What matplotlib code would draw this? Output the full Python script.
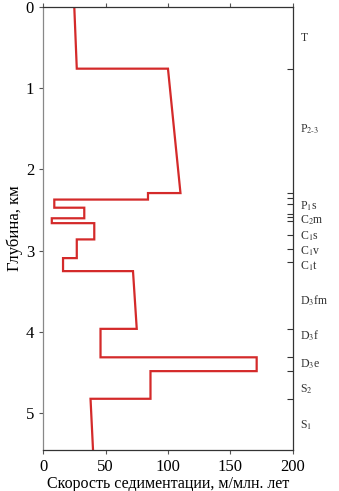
import matplotlib
matplotlib.use("Agg")
import matplotlib.pyplot as plt

plt.rcParams['font.family'] = ['Liberation Serif', 'DejaVu Serif']
plt.rcParams['mathtext.fontset'] = 'stix'

# Sedimentation rate profile (polyline vertices)
depth_km = [0.0, 0.76, 0.76, 2.29, 2.29, 2.37, 2.37, 2.47, 2.47, 2.60, 2.60, 2.66,
            2.66, 2.86, 2.86, 3.09, 3.09, 3.25, 3.25, 3.96, 3.96, 4.31, 4.31, 4.48,
            4.48, 4.82, 4.82, 5.45]
rate = [25, 27, 100, 110, 84, 84, 9, 9, 33, 33, 7, 7,
        41, 41, 27, 27, 16, 16, 72, 75, 46, 46, 171, 171,
        86, 86, 38, 40]

# Stratigraphic boundaries (right axis ticks) and labels
boundaries = [0.76, 2.29, 2.35, 2.42, 2.55, 2.59, 2.63, 2.80, 2.98, 3.14, 3.96, 4.31, 4.48, 4.82]
strat_labels = ['T', r'P$_{2\text{-}3}$', r'P$_1$s', r'C$_2$m', r'C$_1$s', r'C$_1$v', r'C$_1$t',
                r'D$_3$fm', r'D$_3$f', r'D$_3$e', r'S$_2$', r'S$_1$']
strat_label_depth = [0.38, 1.51, 2.45, 2.63, 2.82, 3.01, 3.19, 3.62, 4.05, 4.40, 4.70, 5.15]

x_ticks = [0, 50, 100, 150, 200]
y_ticks = [0, 1, 2, 3, 4, 5]

fig = plt.figure(figsize=(3.39, 4.91), dpi=100)
ax = fig.add_axes([0.127, 0.0835, 0.737, 0.9025])
ax.plot(rate, depth_km, color='#d42a2a', lw=1.6, solid_joinstyle='miter')
ax.set_xlim(0, 200)
ax.set_ylim(5.45, 0)
ax.set_xticks(x_ticks)
ax.set_yticks(y_ticks)
ax.tick_params(axis='both', labelsize=12, direction='out', length=3, color='#555555')
ax.tick_params(axis='x', top=True, labeltop=False)
for s in ax.spines.values():
    s.set_color('#333333')
    s.set_linewidth(0.9)
ax.spines['left'].set_color('#888888')

ax.set_xlabel('Скорость седиментации, м/млн. лет', fontsize=11.5, labelpad=1)
ax.set_ylabel('Глубина, км', fontsize=12, labelpad=2)

ax2 = ax.twinx()
ax2.set_ylim(5.45, 0)
ax2.set_yticks(boundaries)
ax2.set_yticklabels([])
ax2.tick_params(axis='y', direction='in', length=4, color='#333333')
for s in ax2.spines.values():
    s.set_visible(False)

for lab, d in zip(strat_labels, strat_label_depth):
    ax.text(1.03, d, lab, transform=ax.get_yaxis_transform(), fontsize=8.5,
            va='center', ha='left', color='#333333')

fig.savefig('out.png', dpi=100)
